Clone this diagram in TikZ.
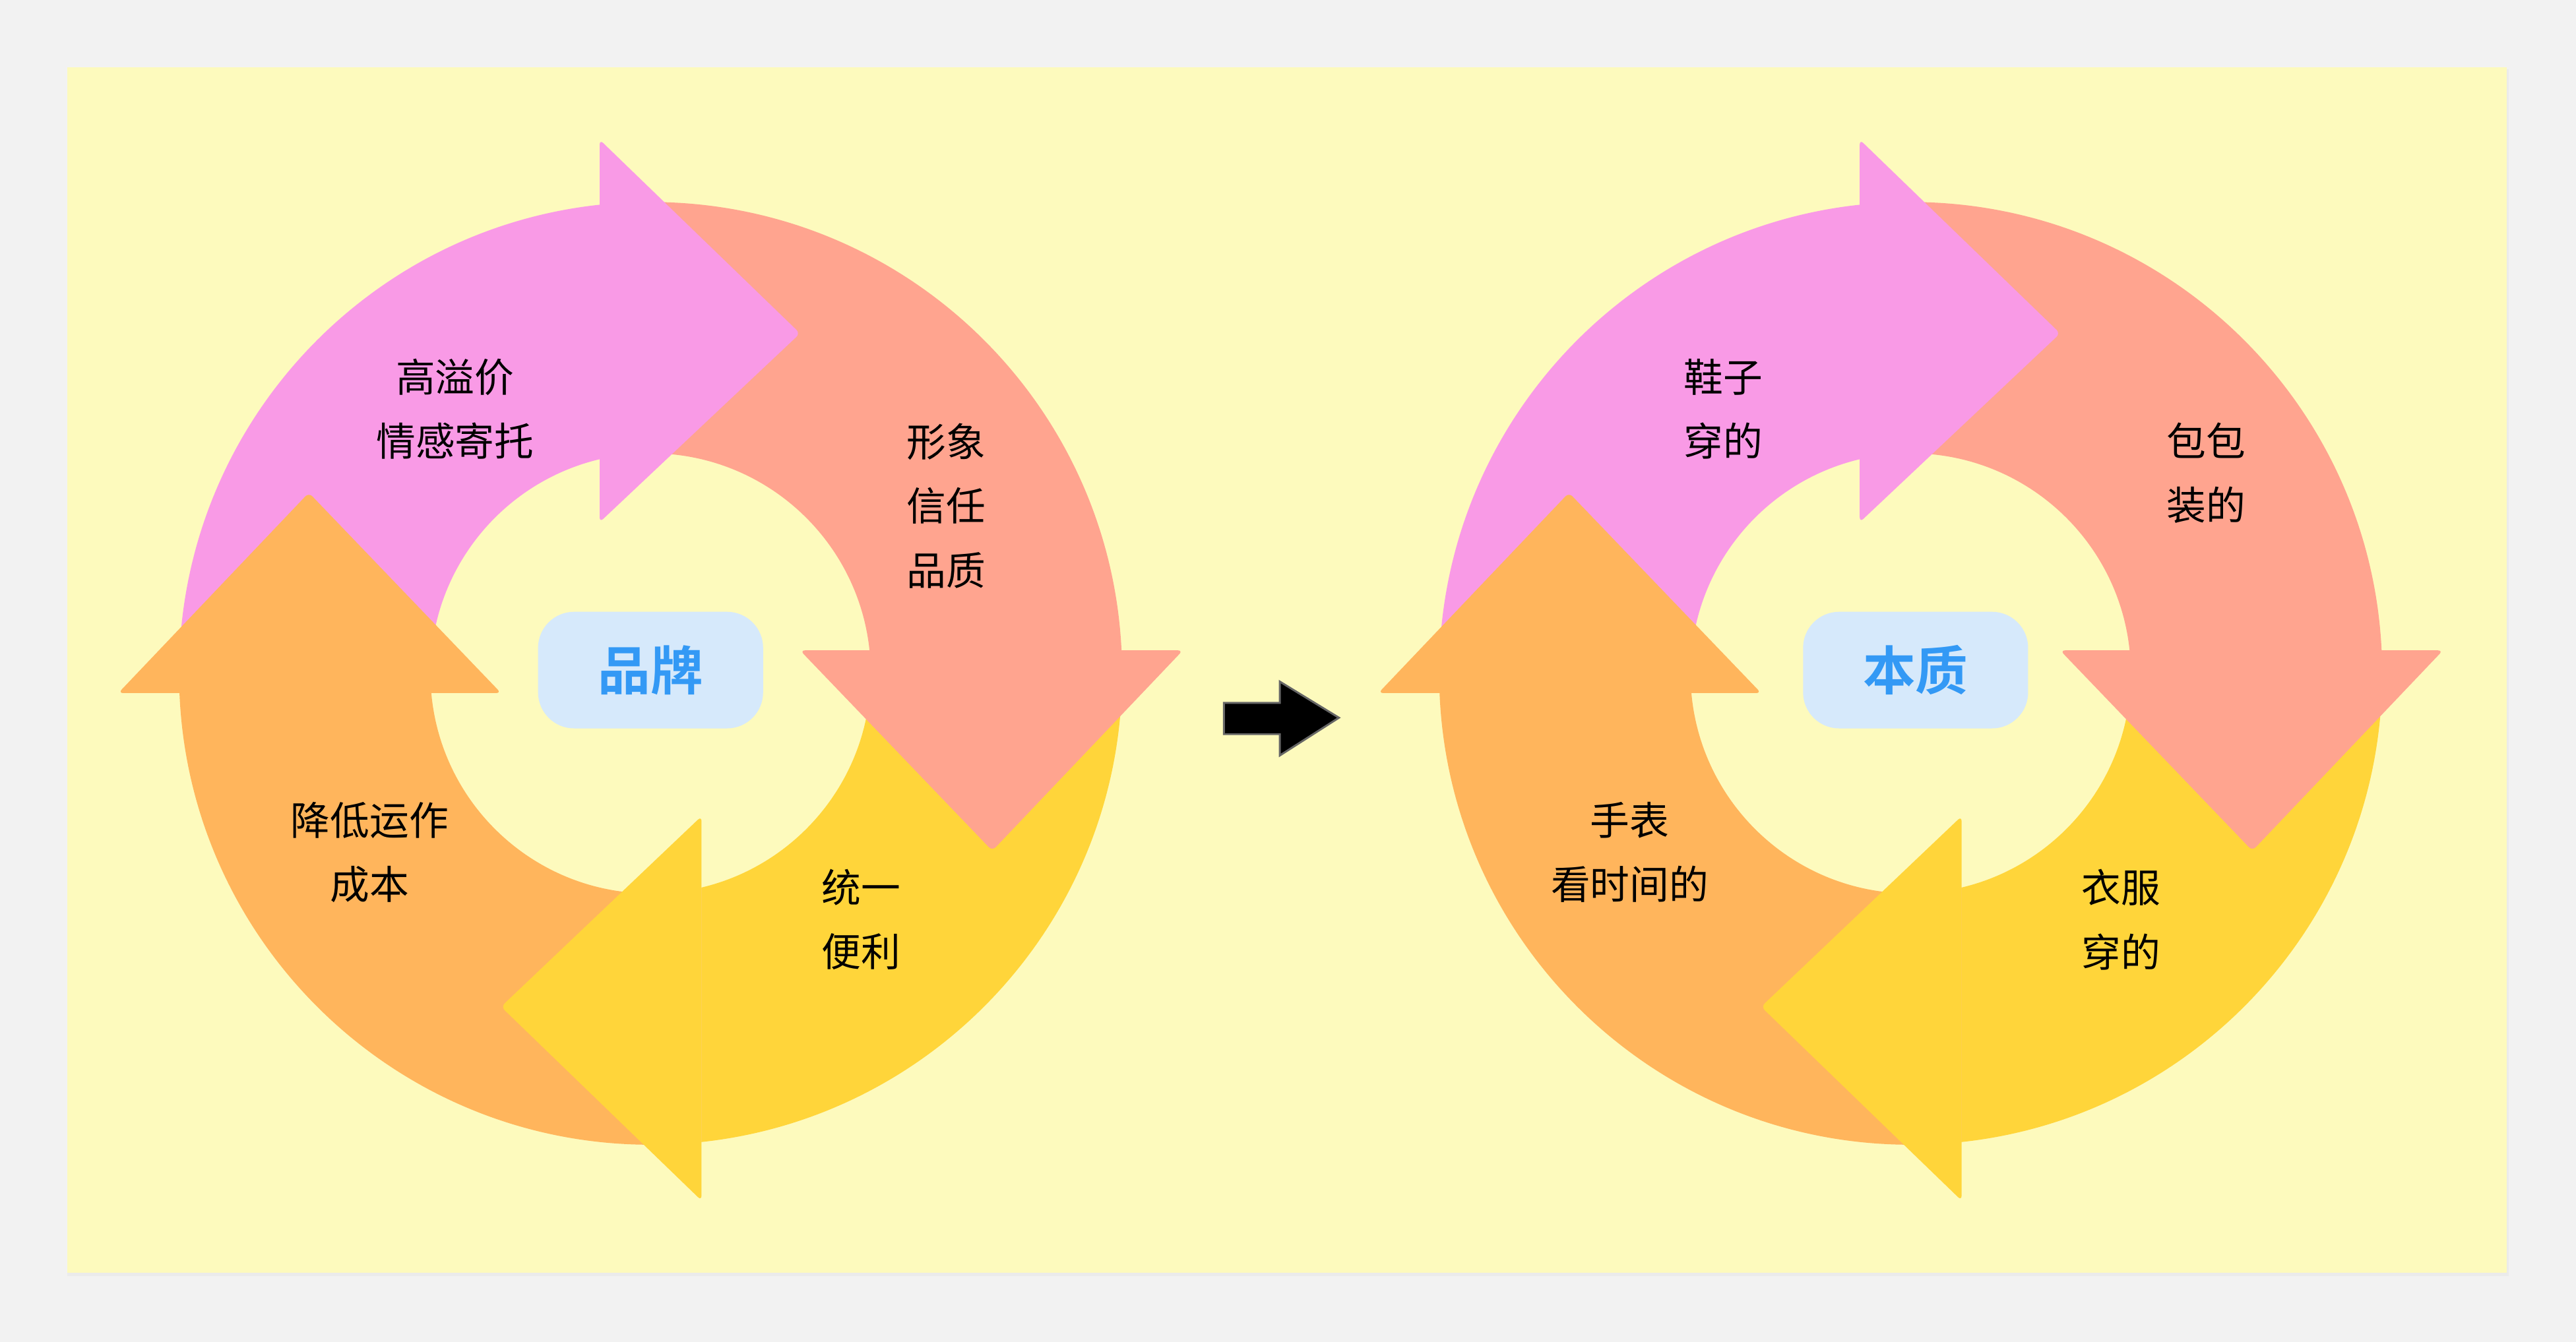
\documentclass[tikz,border=0pt]{standalone}
\usepackage{fontspec}
\setmainfont{Noto Sans CJK SC}
\newfontfamily\cjkb{Noto Sans CJK SC Bold}
\definecolor{bgc}{HTML}{F2F2F2}
\definecolor{panel}{HTML}{FDFABD}
\definecolor{cpink}{HTML}{F99AE6}
\definecolor{csal}{HTML}{FFA48F}
\definecolor{cyel}{HTML}{FFD53A}
\definecolor{cora}{HTML}{FFB55C}
\definecolor{cbox}{HTML}{D6E9FB}
\definecolor{cblue}{HTML}{3399F5}
\newcommand\ringpart[5]{\begin{scope}\clip (#1,#2) rectangle (#3,#4);
 \fill[#5,even odd rule] (396,410) circle[radius=287] (396,410) circle[radius=134];\end{scope}}
\newcommand\mycycle{%
 \ringpart{-10}{0}{365}{422}{cpink}
 \ringpart{365}{0}{800}{396}{csal}
 \ringpart{427}{396}{800}{800}{cyel}
 \ringpart{0}{422}{427}{800}{cora}
 \fill[cpink,rounded corners=3] (365,85) -- (487,203) -- (365,318) -- cycle;
 \fill[csal,rounded corners=3] (487,396) -- (604,518) -- (720,396) -- cycle;
 \fill[cyel,rounded corners=3] (427,497) -- (305,613) -- (427,731) -- cycle;
 \fill[cora,rounded corners=3] (72,422) -- (188,300) -- (305,422) -- cycle;}
\tikzset{lab/.style={align=center,font=\fontsize{24}{39}\selectfont,text=black},
 hub/.style={fill=cbox,rounded corners=22,minimum width=137,minimum height=71,text=cblue,font=\cjkb\fontsize{32}{36}\selectfont}}
\begin{document}
\begin{tikzpicture}[x=1pt,y=-1pt]
\fill[bgc] (0,0) rectangle (1568,817);
\useasboundingbox (0,0) rectangle (1568,817);
\fill[black!8] (41,42) rectangle (1527,777);
\fill[panel] (41,41) rectangle (1526,775);
\mycycle
\begin{scope}[xshift=767]\mycycle\end{scope}
\node[hub] (b1) at (396,408) {品牌};
\node[hub] (b2) at (1166,408) {本质};
\node[lab] (l1) at (277,249) {高溢价\\情感寄托};
\node[lab] (l2) at (576,308) {形象\\信任\\品质};
\node[lab] (l3) at (524,560) {统一\\便利};
\node[lab] (l4) at (225,519) {降低运作\\成本};
\node[lab] (r1) at (1049,249) {鞋子\\穿的};
\node[lab] (r2) at (1343,288) {包包\\装的};
\node[lab] (r3) at (1291,560) {衣服\\穿的};
\node[lab] (r4) at (992,519) {手表\\看时间的};
\fill[black,draw=black!60,line width=1.2] (745,428) -- (779,428) -- (779,415) -- (815,437) -- (779,460) -- (779,447) -- (745,447) -- cycle;
\end{tikzpicture}
\end{document}
